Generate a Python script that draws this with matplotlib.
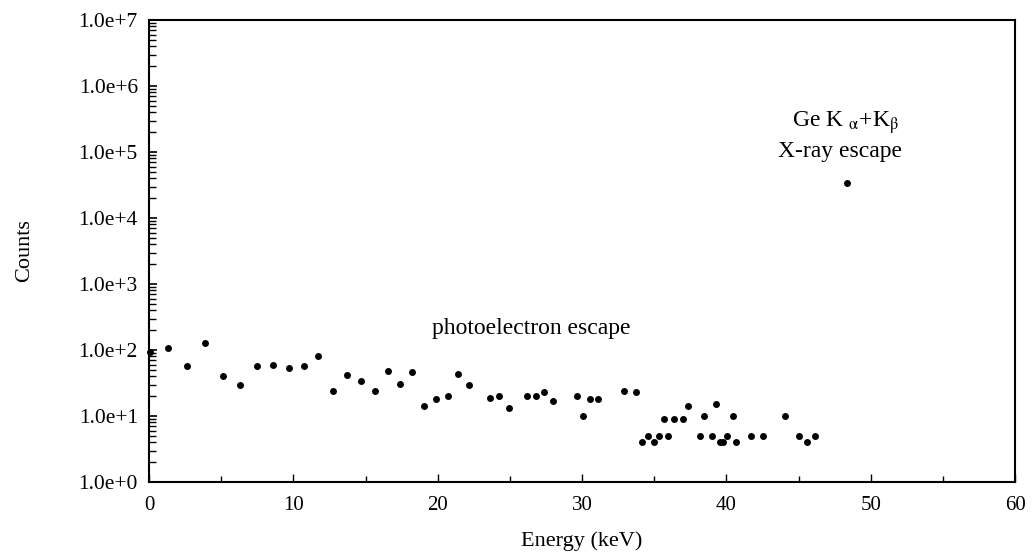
import numpy as np
import matplotlib
matplotlib.use("Agg")
import matplotlib.pyplot as plt

# Escape-peak spectrum (energy in keV, counts)
energy_kev = [0.07, 1.34, 2.63, 3.90, 5.10, 6.33, 7.48, 8.57, 9.68, 10.72,
              11.73, 12.77, 13.74, 14.71, 15.64, 16.54, 17.39, 18.25, 19.06, 19.89,
              20.70, 21.43, 22.16, 23.61, 24.28, 24.95, 26.22, 26.84, 27.37, 28.00,
              29.64, 30.10, 30.58, 31.10, 32.90, 33.75, 34.19, 34.56, 34.98, 35.34,
              35.71, 35.99, 36.38, 37.03, 37.33, 38.18, 38.48, 39.04, 39.29, 39.55,
              39.80, 40.03, 40.49, 40.70, 41.72, 42.57, 44.05, 45.00, 45.62, 46.17,
              48.37]
counts = [92, 108, 58, 126, 41, 29, 57, 59, 53, 57,
          82, 24, 42, 34, 24, 48, 31, 47, 14, 18,
          20, 43, 29, 19, 20, 13, 20, 20, 23, 17,
          20, 10, 18, 18, 24, 23, 4, 5, 4, 5,
          9, 5, 9, 9, 14, 5, 10, 5, 15, 4,
          4, 5, 10, 4, 5, 5, 10, 5, 4, 5,
          34500]

x_ticks = [0, 10, 20, 30, 40, 50, 60]
y_ticks = [1e0, 1e1, 1e2, 1e3, 1e4, 1e5, 1e6, 1e7]
y_labels = ["1.0e+0", "1.0e+1", "1.0e+2", "1.0e+3", "1.0e+4", "1.0e+5", "1.0e+6", "1.0e+7"]

plt.rcParams["font.family"] = ["Liberation Serif", "DejaVu Serif"]
plt.rcParams["mathtext.fontset"] = "stix"

fig = plt.figure(figsize=(10.35, 5.55), dpi=100)
ax = fig.add_axes([149 / 1035, 1 - 482 / 555, 866 / 1035, 462 / 555])

ax.plot(energy_kev, counts, "o", color="black", ms=5, mew=0, clip_on=False, zorder=3)

ax.set_yscale("log")
ax.set_xlim(0, 60)
ax.set_ylim(1e0, 1e7)
ax.set_xticks(x_ticks)
ax.set_xticks(np.arange(0, 61, 5), minor=True)
ax.set_yticks(y_ticks)
ax.set_yticklabels(y_labels)
ax.tick_params(axis="y", which="both", direction="in", labelsize=15.5, pad=8)
ax.tick_params(axis="y", which="major", length=6, width=1.2)
ax.tick_params(axis="y", which="minor", length=5, width=1.0)
ax.tick_params(axis="x", which="both", direction="in", labelsize=15, pad=10)
ax.tick_params(axis="x", which="major", length=6, width=1.0)
ax.tick_params(axis="x", which="minor", length=4, width=1.0)
for s in ax.spines.values():
    s.set_linewidth(1.5)

ax.set_xlabel("Energy (keV)", fontsize=16, labelpad=12)
ax.set_ylabel("Counts", fontsize=16, labelpad=32)

ax.text(26.5, 215, "photoelectron escape", fontsize=17, ha="center", va="center")
ax.text(48.3, 2.8e5, r"Ge K $_{\mathrm{\alpha}}$+K$_{\mathrm{\beta}}$", fontsize=17,
        ha="center", va="center")
ax.text(47.9, 1.03e5, "X-ray escape", fontsize=17, ha="center", va="center")

fig.savefig("out.png", dpi=100)
